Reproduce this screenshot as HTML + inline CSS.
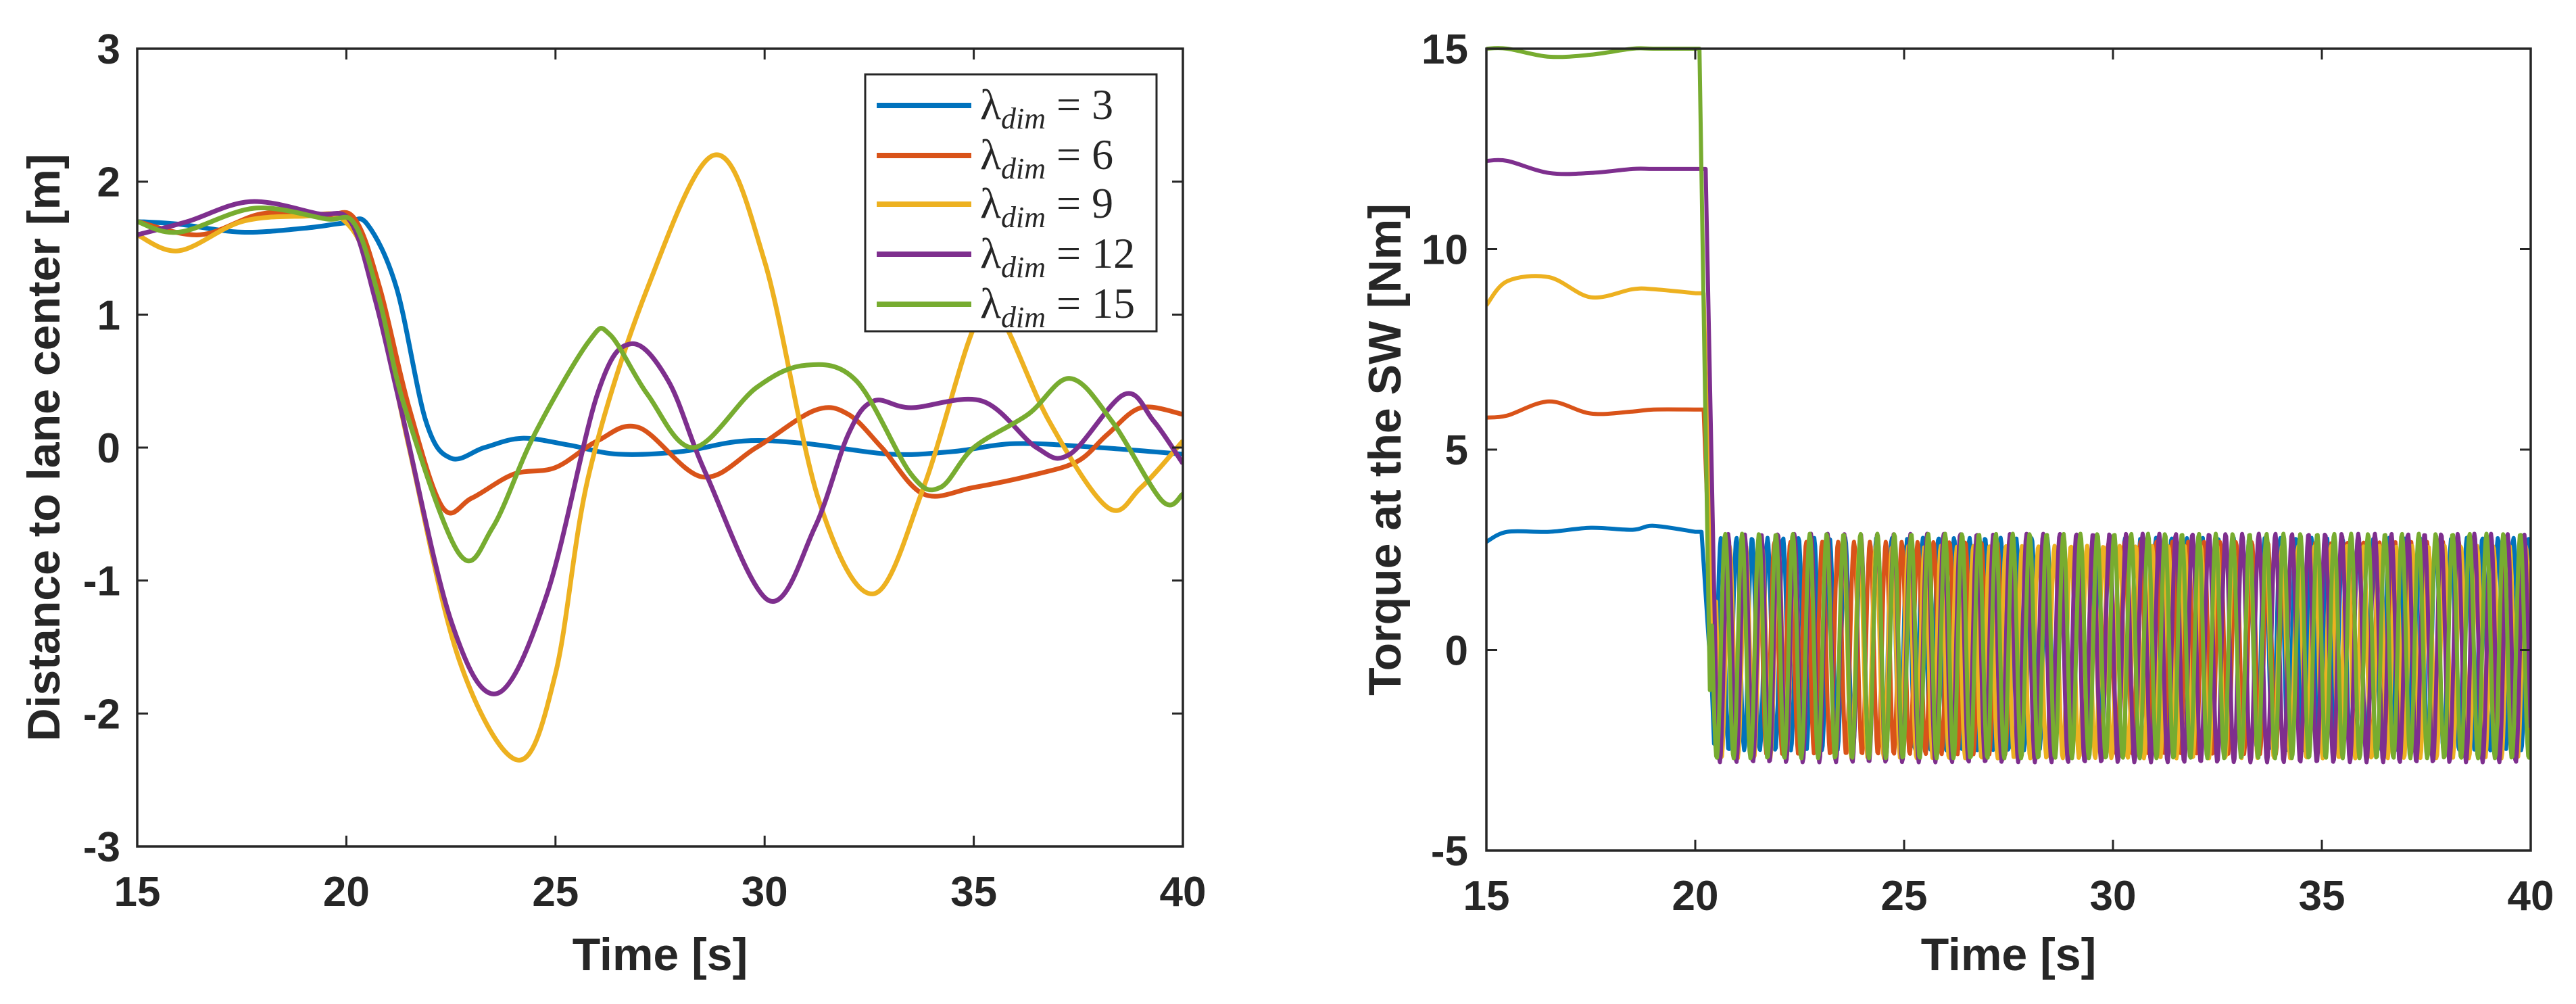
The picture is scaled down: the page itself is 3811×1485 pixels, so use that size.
<!DOCTYPE html>
<html><head><meta charset="utf-8">
<style>
html,body{margin:0;padding:0;background:#fff;}
svg{display:block;}
text{font-family:"Liberation Sans",Arial,sans-serif;font-weight:bold;fill:#262626;}
</style></head>
<body>
<svg id="fig" width="3811" height="1485" viewBox="0 0 3811 1485" xmlns="http://www.w3.org/2000/svg"></svg>
<script>
// ---------- Data: left chart (distance to lane center) ----------
const seriesNames = ["3","6","9","12","15"];
const seriesColors = ["#0072BD","#D95319","#EDB120","#7E2F8E","#77AC30"];
const leftXTicks = [15,20,25,30,35,40];
const leftYTicks = [-3,-2,-1,0,1,2,3];
const rightXTicks = [15,20,25,30,35,40];
const rightYTicks = [-5,0,5,10,15];

const distT0 = [15,16,17.5,19,20,20.5,21.2,21.9,22.5,23.3,24.2,25.3,26.5,28,29.5,31,33,34.5,36,38,40];
const distV0 = [1.7,1.68,1.62,1.65,1.69,1.68,1.2,0.2,-0.08,0,0.07,0.02,-0.05,-0.03,0.05,0.03,-0.05,-0.03,0.03,0,-0.05];
const distT1 = [15,16.5,18,19.5,20.2,20.8,21.5,22.3,23,24,25,26,27,28.5,29.8,31.2,32,32.8,33.8,35,36.5,37.5,38.2,39,40];
const distV1 = [1.7,1.6,1.76,1.75,1.72,1.2,0.3,-0.45,-0.38,-0.2,-0.15,0.05,0.15,-0.22,0,0.28,0.25,0,-0.35,-0.3,-0.2,-0.1,0.1,0.3,0.25];
const distT2 = [15,16,17.5,19,19.9,20.6,21.5,22.7,24.1,25,25.8,27.2,28.8,30,31.3,32.6,33.8,35,35.6,36.8,38.2,39,40];
const distV2 = [1.6,1.48,1.7,1.74,1.72,1.3,0,-1.6,-2.35,-1.7,-0.2,1.2,2.2,1.4,-0.4,-1.1,-0.3,0.9,1.0,0.2,-0.45,-0.3,0.05];
const distT3 = [15,16.2,17.7,19.3,20.1,20.7,21.3,22.5,23.6,24.8,26,26.8,27.7,28.6,30.1,31.2,32,32.6,33.5,35.2,36.5,37.3,38.6,39.3,40];
const distV3 = [1.6,1.7,1.85,1.76,1.7,1.1,0.3,-1.3,-1.85,-1.1,0.4,0.78,0.5,-0.2,-1.15,-0.6,0.1,0.35,0.3,0.35,0,-0.05,0.4,0.2,-0.12];
const distT4 = [15,16,17.8,19.5,20.2,20.8,21.4,22.7,23.5,24.5,25.8,26.3,27.2,28.3,29.8,31,32.2,33.5,34.2,35,36.3,37.3,38.3,39.5,40];
const distV4 = [1.7,1.62,1.8,1.72,1.68,1.1,0.3,-0.8,-0.6,0.1,0.8,0.85,0.4,0,0.45,0.62,0.5,-0.2,-0.3,0,0.25,0.52,0.2,-0.4,-0.35];
const distT = [distT0,distT1,distT2,distT3,distT4];
const distV = [distV0,distV1,distV2,distV3,distV4];

// ---------- Data: right chart (torque) ----------
const torqT0 = [15,15.5,16.5,17.5,18.5,19,20];
const torqV0 = [2.7,2.95,2.95,3.05,3.0,3.1,2.95];
const torqV1 = [5.8,5.85,6.2,5.9,5.95,6.0,6.0];
const torqV2 = [8.6,9.2,9.3,8.8,9.0,9.0,8.9];
const torqV3 = [12.2,12.2,11.9,11.9,12.0,12.0,12.0];
const torqV4 = [15.0,15.0,14.8,14.85,15.0,15.0,15.0];
const torqPre = [torqV0,torqV1,torqV2,torqV3,torqV4];
const torqStepTime = [20.15,20.2,20.2,20.25,20.1];
const oscMax = [2.8,2.7,2.6,2.9,2.9];
const oscMin = [-2.5,-2.6,-2.7,-2.8,-2.7];
const oscPeriod = [0.372,0.381,0.389,0.397,0.405];
const oscPhase = [0.0,0.2,0.35,0.1,0.27];

// ---------- Drawing ----------
const NS="http://www.w3.org/2000/svg";
const svg=document.getElementById('fig');
function mk(tag,attrs,parent){const e=document.createElementNS(NS,tag);for(const k in attrs)e.setAttribute(k,attrs[k]);(parent||svg).appendChild(e);return e;}

function makeAxes(box,xd,yd){
  return {
    x:v=>box.l+(v-xd[0])/(xd[1]-xd[0])*(box.r-box.l),
    y:v=>box.b-(v-yd[0])/(yd[1]-yd[0])*(box.b-box.t)
  };
}
function smoothPath(pts){
  let d="M"+pts[0][0].toFixed(1)+","+pts[0][1].toFixed(1);
  for(let i=0;i<pts.length-1;i++){
    const p0=pts[Math.max(i-1,0)],p1=pts[i],p2=pts[i+1],p3=pts[Math.min(i+2,pts.length-1)];
    const c1=[p1[0]+(p2[0]-p0[0])/6,p1[1]+(p2[1]-p0[1])/6];
    const c2=[p2[0]-(p3[0]-p1[0])/6,p2[1]-(p3[1]-p1[1])/6];
    d+=" C"+c1[0].toFixed(1)+","+c1[1].toFixed(1)+" "+c2[0].toFixed(1)+","+c2[1].toFixed(1)+" "+p2[0].toFixed(1)+","+p2[1].toFixed(1);
  }
  return d;
}
function drawFrame(g,box,ax,xt,yt,xtitle,ytitle,ytx,yLabRight){
  for(const v of xt){
    const x=ax.x(v);
    const t1=mk('line',{x1:x,y1:box.b,x2:x,y2:box.b-16,stroke:'#262626','stroke-width':3},g);
    
    
    mk('line',{x1:x,y1:box.t,x2:x,y2:box.t+16,stroke:'#262626','stroke-width':3},g);
    const tl=mk('text',{x:x,y:box.b+88,'font-size':62,'text-anchor':'middle'},g);
    tl.textContent=v;
    
    
  }
  for(const v of yt){
    const y=ax.y(v);
    mk('line',{x1:box.l,y1:y,x2:box.l+16,y2:y,stroke:'#262626','stroke-width':3},g);
    mk('line',{x1:box.r,y1:y,x2:box.r-16,y2:y,stroke:'#262626','stroke-width':3},g);
    const tl=mk('text',{x:yLabRight,y:y+22,'font-size':62,'text-anchor':'end'},g);
    tl.textContent=v;
    
    
  }
  const xtl=mk('text',{x:(box.l+box.r)/2,y:1435,'font-size':68,'text-anchor':'middle'},g);
  xtl.textContent=xtitle;
  
  
  const cy=(box.t+box.b)/2;
  const ytl=mk('text',{x:ytx,y:cy,'font-size':68,'text-anchor':'middle',transform:'rotate(-90 '+ytx+' '+cy+')'},g);
  ytl.textContent=ytitle;
  
  
}
function drawBox(g,box){
  const r=mk('rect',{x:box.l,y:box.t,width:box.r-box.l,height:box.b-box.t,fill:'none',stroke:'#262626','stroke-width':3.5},g);
  
  
}

// Left chart
const LB={l:203,r:1750,t:72,b:1252};
const LA=makeAxes(LB,[15,40],[-3,3]);
const gL=mk('g',{});


mk('rect',{x:LB.l,y:LB.t,width:LB.r-LB.l,height:LB.b-LB.t,fill:'#fff'},gL);
const clipL=mk('clipPath',{id:'clipL'},gL);
mk('rect',{x:LB.l,y:LB.t,width:LB.r-LB.l,height:LB.b-LB.t},clipL);
const gLines=mk('g',{'clip-path':'url(#clipL)'},gL);
for(let s=0;s<5;s++){
  const pts=distT[s].map((t,i)=>[LA.x(t),LA.y(distV[s][i])]);
  const p=mk('path',{d:smoothPath(pts),fill:'none',stroke:seriesColors[s],'stroke-width':7,'stroke-linejoin':'round'},gLines);
  
  
}
drawBox(gL,LB);
drawFrame(gL,LB,LA,leftXTicks,leftYTicks,'Time [s]','Distance to lane center [m]',88,178);

// Legend
const lg=mk('g',{},gL);


mk('rect',{x:1280,y:110,width:431,height:380,fill:'#fff',stroke:'#262626','stroke-width':3},lg);
const legY=[152,226,298,372,446];
for(let s=0;s<5;s++){
  const e=mk('g',{},lg);
  
  
  mk('line',{x1:1297,y1:legY[s]+4,x2:1437,y2:legY[s]+4,stroke:seriesColors[s],'stroke-width':8},e);
  const t=mk('text',{x:1450,y:legY[s]+24,'font-size':64,style:'font-family:"Liberation Serif",serif;font-weight:normal'},e);
  t.innerHTML='λ<tspan font-size="44" font-style="italic" dy="14">dim</tspan><tspan dy="-14"> = '+seriesNames[s]+'</tspan>';
}

// Right chart
const RB={l:2199,r:3744,t:72,b:1258};
const RA=makeAxes(RB,[15,40],[-5,15]);
const gR=mk('g',{});


const clipR=mk('clipPath',{id:'clipR'},gR);
mk('rect',{x:RB.l,y:RB.t-4,width:RB.r-RB.l,height:RB.b-RB.t+4},clipR);
const gRL=mk('g',{'clip-path':'url(#clipR)'},gR);
for(let s=0;s<5;s++){
  const pts=torqT0.map((t,i)=>[RA.x(t),RA.y(torqPre[s][i])]);
  let d=smoothPath(pts);
  const ts=torqStepTime[s];
  d+=" L"+RA.x(ts).toFixed(1)+","+RA.y(torqPre[s][torqPre[s].length-1]).toFixed(1);
  d+=" L"+RA.x(ts+0.25).toFixed(1)+","+RA.y(-1).toFixed(1);
  const mid=(oscMax[s]+oscMin[s])/2, amp=(oscMax[s]-oscMin[s])/2;
  for(let t=ts+0.3;t<=40.01;t+=0.02){
    const v=mid+amp*Math.sin(2*Math.PI*(t-ts-oscPhase[s]*oscPeriod[s])/oscPeriod[s]);
    d+=" L"+RA.x(t).toFixed(1)+","+RA.y(v).toFixed(1);
  }
  const p=mk('path',{d:d,fill:'none',stroke:seriesColors[s],'stroke-width':6,'stroke-linejoin':'round'},gRL);
  
  
}
drawBox(gR,RB);
drawFrame(gR,RB,RA,rightXTicks,rightYTicks,'Time [s]','Torque at the SW [Nm]',2072,2172);
</script>
</body></html>
